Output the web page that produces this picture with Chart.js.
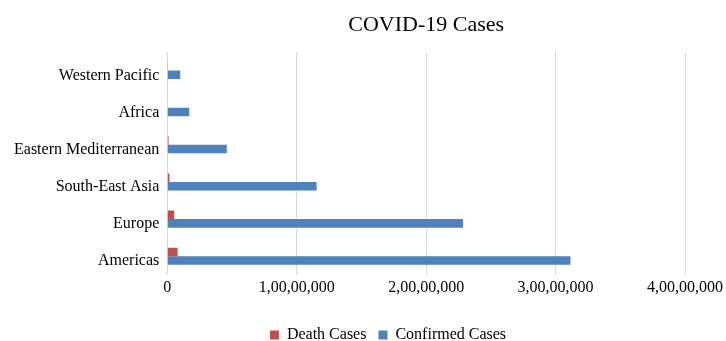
<!DOCTYPE html>
<html>
<head>
<meta charset="utf-8">
<script src="https://cdn.jsdelivr.net/npm/chart.js@4.4.1/dist/chart.umd.min.js"></script>
<style>
  html, body { margin: 0; padding: 0; background: #ffffff; }
  #wrap { width: 726px; height: 341px; }
</style>
</head>
<body>
<div id="wrap"><canvas id="c" width="726" height="341"></canvas></div>
<script>
// WHO regions, listed top to bottom
const regions = ["Western Pacific", "Africa", "Eastern Mediterranean", "South-East Asia", "Europe", "Americas"];
const deathCases = [20000, 40000, 100000, 170000, 540000, 800000];
const confirmedCases = [1000000, 1700000, 4600000, 11540000, 22850000, 31150000];
const axisTicks = [0, 10000000, 20000000, 30000000, 40000000];

// Indian digit grouping, e.g. 1,00,00,000
function indianFormat(n) {
  const s = String(Math.round(n));
  if (s.length <= 3) return s;
  const last3 = s.slice(-3);
  let rest = s.slice(0, -3);
  const parts = [];
  while (rest.length > 2) {
    parts.unshift(rest.slice(-2));
    rest = rest.slice(0, -2);
  }
  if (rest) parts.unshift(rest);
  return parts.join(",") + "," + last3;
}

const serif = "'Liberation Serif', 'Times New Roman', serif";

// Title centred over the plot area; legend placed under the middle of the chart
const layoutTweaks = {
  id: "layoutTweaks",
  afterLayout(chart) {
    const lg = chart.legend;
    if (lg) {
      const dx = 388 - (lg.left + lg.right) / 2;
      lg.left += dx; lg.right += dx;
      lg.top += 15; lg.bottom += 15;
    }
  },
  afterDraw(chart) {
    const { ctx, chartArea } = chart;
    ctx.save();
    ctx.fillStyle = "#000000";
    ctx.font = "22px " + serif;
    ctx.textAlign = "center";
    ctx.textBaseline = "middle";
    ctx.fillText("COVID-19 Cases", (chartArea.left + chartArea.right) / 2, 25);
    ctx.restore();
  }
};

new Chart(document.getElementById("c"), {
  type: "bar",
  data: {
    labels: regions,
    datasets: [
      {
        label: "Death Cases",
        data: deathCases,
        backgroundColor: "#C0504D",
        categoryPercentage: 0.46,
        barPercentage: 1
      },
      {
        label: "Confirmed Cases",
        data: confirmedCases,
        backgroundColor: "#4F81BD",
        categoryPercentage: 0.46,
        barPercentage: 1
      }
    ]
  },
  options: {
    indexAxis: "y",
    responsive: false,
    animation: false,
    layout: { padding: { top: 52, left: 6, right: 40, bottom: 3 } },
    scales: {
      x: {
        min: 0,
        max: 40000000,
        afterBuildTicks(scale) { scale.ticks = axisTicks.map(v => ({ value: v })); },
        grid: { color: "#d9d9d9", drawTicks: false },
        border: { display: false },
        ticks: {
          color: "#000000",
          font: { family: serif, size: 16 },
          padding: 3,
          maxRotation: 0,
          callback: v => indianFormat(v)
        }
      },
      y: {
        grid: { display: false, drawTicks: false },
        border: { display: true, color: "#d9d9d9", width: 1 },
        ticks: {
          color: "#000000",
          font: { family: serif, size: 16 },
          padding: 8,
          labelOffset: 5
        }
      }
    },
    plugins: {
      title: { display: false },
      tooltip: { enabled: false },
      legend: {
        position: "bottom",
        labels: {
          color: "#000000",
          font: { family: serif, size: 16 },
          boxWidth: 9,
          boxHeight: 9,
          padding: 12
        }
      }
    }
  },
  plugins: [layoutTweaks]
});
</script>
</body>
</html>
